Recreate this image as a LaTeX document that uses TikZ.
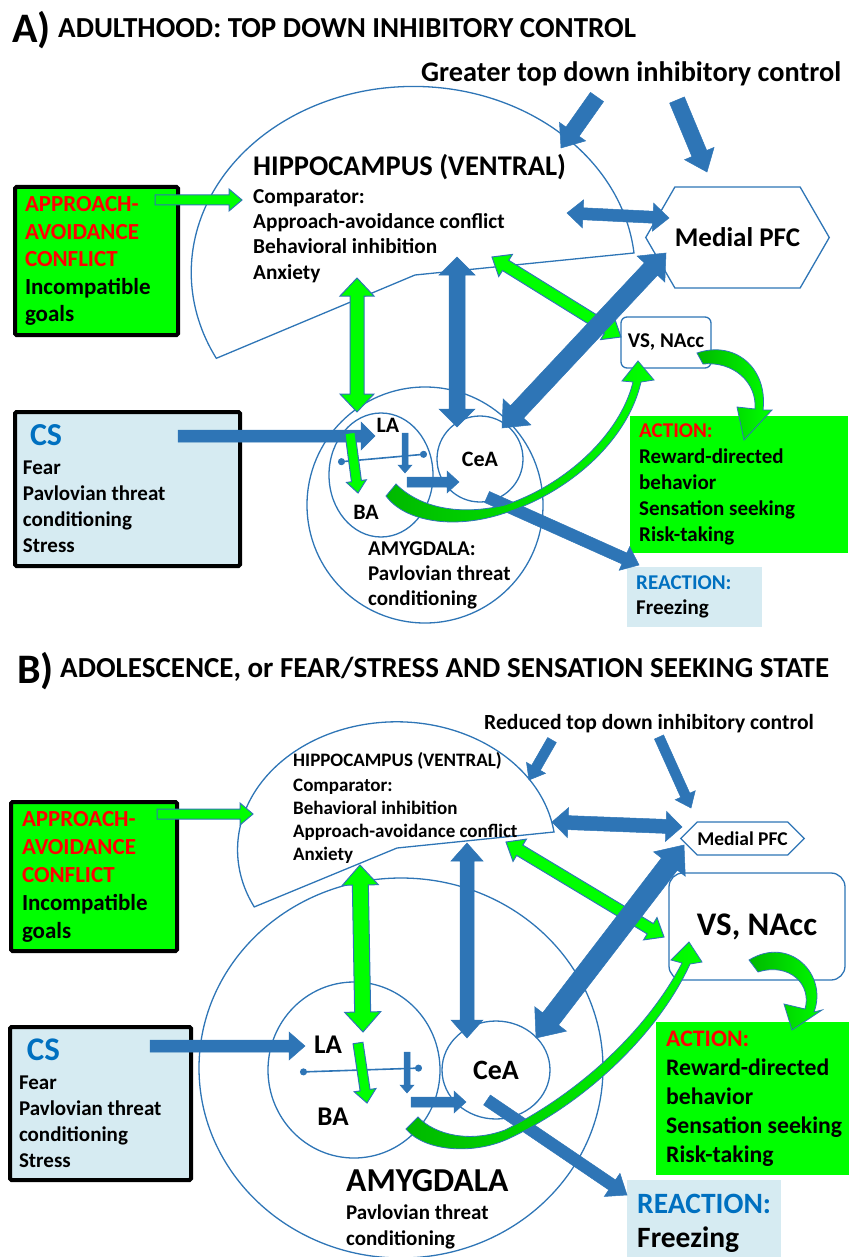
\documentclass[tikz,border=0pt]{standalone}
\usepackage{fontspec}
\setmainfont{Carlito}
\usetikzlibrary{arrows.meta,calc,positioning,shapes.geometric,shapes.symbols}

\definecolor{accentblue}{RGB}{46,117,182}
\definecolor{brightgreen}{RGB}{0,255,0}
\definecolor{deepgreen}{RGB}{0,185,0}
\definecolor{paleblue}{RGB}{214,235,242}
\definecolor{csblue}{RGB}{0,112,192}

\newcommand{\fsz}[2]{\fontsize{#1}{#2}\selectfont\bfseries}

\tikzset{
  shaftw/.store in=\shaftw, headw/.store in=\headw, headl/.store in=\headl,
  shaftw=6pt, headw=14pt, headl=16pt,
  blockto/.style={to path={
      -- ($(\tikztostart)!\shaftw!90:(\tikztotarget)$)
      -- ($(\tikztotarget)!\headl!(\tikztostart)!\shaftw!90:(\tikztotarget)$)
      -- ($(\tikztotarget)!\headl!(\tikztostart)!\headw!90:(\tikztotarget)$)
      -- (\tikztotarget)
      -- ($(\tikztotarget)!\headl!(\tikztostart)!\headw!-90:(\tikztotarget)$)
      -- ($(\tikztotarget)!\headl!(\tikztostart)!\shaftw!-90:(\tikztotarget)$)
      -- ($(\tikztostart)!\shaftw!-90:(\tikztotarget)$) -- cycle}},
  dblockto/.style={to path={
      -- ($(\tikztostart)!\headl!(\tikztotarget)!\headw!90:(\tikztotarget)$)
      -- ($(\tikztostart)!\headl!(\tikztotarget)!\shaftw!90:(\tikztotarget)$)
      -- ($(\tikztotarget)!\headl!(\tikztostart)!\shaftw!90:(\tikztotarget)$)
      -- ($(\tikztotarget)!\headl!(\tikztostart)!\headw!90:(\tikztotarget)$)
      -- (\tikztotarget)
      -- ($(\tikztotarget)!\headl!(\tikztostart)!\headw!-90:(\tikztotarget)$)
      -- ($(\tikztotarget)!\headl!(\tikztostart)!\shaftw!-90:(\tikztotarget)$)
      -- ($(\tikztostart)!\headl!(\tikztotarget)!\shaftw!-90:(\tikztotarget)$)
      -- ($(\tikztostart)!\headl!(\tikztotarget)!\headw!-90:(\tikztotarget)$)
      -- cycle}}
}

\begin{document}
\begin{tikzpicture}[x=1pt, y=-1pt,
    region/.style={draw=accentblue, line width=1.3pt},
    borderbox/.style={draw=black, line width=4pt, rounded corners=1.5pt, anchor=north west, align=flush left, inner ysep=0pt},
    plainbox/.style={anchor=north west, align=flush left, inner ysep=0pt},
    hexagon/.style={signal, signal to=east and west, draw=accentblue, line width=1.3pt, fill=white, inner sep=0pt},
    roundbox/.style={draw=accentblue, line width=1.3pt, rounded corners=6pt, fill=white},
    textline/.style={anchor=base west, align=left, inner sep=0pt},
    bluearrow/.style={blockto, draw=accentblue, fill=accentblue, line width=0.5pt},
    bluedouble/.style={dblockto, draw=accentblue, fill=accentblue, line width=0.5pt},
    greenarrow/.style={blockto, draw=accentblue, fill=brightgreen, line width=1pt},
    greendouble/.style={dblockto, draw=accentblue, fill=brightgreen, line width=1pt},
    curvedarrow/.style={draw=accentblue, line width=0.8pt, left color=deepgreen, right color=brightgreen},
    dumbbell/.style={draw=accentblue, line width=1.6pt, {Circle[length=7pt]}-{Circle[length=7pt]}}
]
\useasboundingbox (0,0) rectangle (848,1257);

\node[textline, font=\fsz{42}{44}] (a-tag) at (12,43) {A)};
\node[textline, font=\fsz{29}{31}] (a-title) at (58,38) {ADULTHOOD: TOP DOWN INHIBITORY CONTROL};
\node[textline, font=\fsz{28.3}{30}] (a-greater) at (421,82) {Greater top down inhibitory control};

\draw[region] (634,253) arc[start angle=-6, end angle=-207.5, x radius=222, y radius=186] -- (415,275) -- cycle;
\node[region, circle, minimum size=236pt, inner sep=0pt] (a-amyg) at (425,505) {};
\node[region, ellipse, minimum width=104pt, minimum height=124pt, inner sep=0pt] (a-lab) at (381,475) {};
\node[region, circle, minimum size=86pt, inner sep=0pt, font=\fsz{22}{24}] (a-cea) at (480,459) {CeA};
\node[hexagon, minimum width=173pt, minimum height=101pt, signal pointer angle=120, font=\fsz{27}{29}] (a-pfc) at (737.5,237.5) {Medial PFC};
\node[roundbox, minimum width=90pt, minimum height=51pt, font=\fsz{21}{23}] (a-vs) at (666,342.5) {VS, NAcc};

\node[borderbox, fill=brightgreen, text width=143pt, inner xsep=10pt, minimum height=148pt, font=\fsz{23}{27.5}] (a-conflict) at (13,185) {\textcolor{red}{APPROACH-}\\\textcolor{red}{AVOIDANCE}\\\textcolor{red}{CONFLICT}\\Incompatible\\goals};
\node[borderbox, fill=paleblue, text width=209pt, inner xsep=8pt, minimum height=154pt, font=\fsz{21}{26}] (a-cs) at (13,410) {\hspace*{7pt}{\fsz{32}{34}\color{csblue}CS}\\[3pt]Fear\\Pavlovian threat\\conditioning\\Stress};
\node[plainbox, fill=brightgreen, text width=200pt, inner xsep=9pt, minimum height=137pt, font=\fsz{21}{26}] (a-action) at (630,416) {\textcolor{red}{ACTION:}\\Reward-directed\\behavior\\Sensation seeking\\Risk-taking};
\node[plainbox, fill=paleblue, text width=117pt, inner xsep=9pt, minimum height=60pt, font=\fsz{21}{25}] (a-reaction) at (627,567) {\textcolor{csblue}{REACTION:}\\Freezing};

\node[textline, font=\fsz{28.5}{30}] (a-hipname) at (253,176) {HIPPOCAMPUS (VENTRAL)};
\node[textline, font=\fsz{21.3}{25.3}] (a-hiptext) at (253,279) {Comparator:\\Approach-avoidance conflict\\Behavioral inhibition\\Anxiety};
\node[font=\fsz{22}{24}] (a-la) at (388,425) {LA};
\node[font=\fsz{22}{24}] (a-ba) at (366,512) {BA};
\node[textline, font=\fsz{21}{25}] (a-amygtext) at (368,605) {AMYGDALA:\\Pavlovian threat\\conditioning};

\coordinate (a-conf-out) at (155,200);  \coordinate (a-hip-in) at (242,200);
\coordinate (a-top1) at (597,97);       \coordinate (a-top1-end) at (561,148);
\coordinate (a-top2) at (677,100);      \coordinate (a-top2-end) at (707,172);
\coordinate (a-hip-pfc) at (567,213);   \coordinate (a-pfc-hip) at (669,218);
\coordinate (a-hip-vs) at (492,257);    \coordinate (a-vs-hip) at (621,337);
\coordinate (a-pfc-cea) at (666,253);   \coordinate (a-cea-pfc) at (502,428);
\coordinate (a-hip-la) at (357,278);    \coordinate (a-la-hip) at (357,412);
\coordinate (a-hip-cea) at (457,257);   \coordinate (a-cea-hip) at (457,427);
\coordinate (a-cs-out) at (178,436);    \coordinate (a-la-in) at (375,436);
\coordinate (a-la-out) at (350,433);    \coordinate (a-ba-in) at (358,493);
\coordinate (a-la-down) at (405,433);   \coordinate (a-la-down-end) at (405,473);
\coordinate (a-to-cea) at (407,482);    \coordinate (a-cea-in) at (459,482);
\coordinate (a-cea-out) at (487,497);   \coordinate (a-react-in) at (639,565);
\coordinate (a-dot1) at (338,462);      \coordinate (a-dot2) at (427,454);

\draw[dumbbell] (a-dot1) -- (a-dot2);
\draw[greenarrow, shaftw=5pt, headw=11pt, headl=13pt] (a-conf-out) to (a-hip-in);
\draw[bluearrow, shaftw=8pt, headw=16pt, headl=20pt] (a-top1) to (a-top1-end);
\draw[bluearrow, shaftw=8pt, headw=16pt, headl=20pt] (a-top2) to (a-top2-end);
\draw[bluedouble, shaftw=6pt, headw=14pt, headl=16pt] (a-hip-pfc) to (a-pfc-hip);
\draw[greendouble, shaftw=6pt, headw=13pt, headl=16pt] (a-hip-vs) to (a-vs-hip);
\draw[bluedouble, shaftw=9pt, headw=19pt, headl=22pt] (a-pfc-cea) to (a-cea-pfc);
\draw[greendouble, shaftw=7pt, headw=17pt, headl=18pt] (a-hip-la) to (a-la-hip);
\draw[bluedouble, shaftw=8pt, headw=18pt, headl=18pt] (a-hip-cea) to (a-cea-hip);
\draw[bluearrow, shaftw=6pt, headw=14pt, headl=14pt] (a-cs-out) to (a-la-in);
\draw[greenarrow, shaftw=5pt, headw=10pt, headl=12pt] (a-la-out) to (a-ba-in);
\draw[bluearrow, shaftw=3pt, headw=7pt, headl=8pt] (a-la-down) to (a-la-down-end);
\draw[bluearrow, shaftw=5pt, headw=11pt, headl=12pt] (a-to-cea) to (a-cea-in);
\draw[bluearrow, shaftw=6pt, headw=13pt, headl=16pt] (a-cea-out) to (a-react-in);
\draw[curvedarrow] (386,496) .. controls (405,522) and (455,530) .. (505,513) .. controls (570,492) and (628,440) .. (641,382) -- (654,380) -- (638,361) -- (622,381) -- (633,382) .. controls (620,435) and (565,485) .. (505,505) .. controls (460,516) and (420,508) .. (396,484) -- cycle;
\draw[curvedarrow] (697,353) .. controls (735,340) and (768,368) .. (763,410) -- (772,410) -- (744,440) -- (737,407) -- (755,409) .. controls (757,382) and (733,361) .. (703,364) -- cycle;

\node[textline, font=\fsz{42}{44}] (b-tag) at (17,683) {B)};
\node[textline, font=\fsz{29}{31}] (b-title) at (60,677) {ADOLESCENCE, or FEAR/STRESS AND SENSATION SEEKING STATE};
\node[textline, font=\fsz{21.6}{24}] (b-reduced) at (484,729) {Reduced top down inhibitory control};

\draw[region] (554,832) arc[start angle=-8, end angle=-206.5, x radius=159, y radius=128] -- (397,848) -- cycle;
\node[region, ellipse, minimum width=404pt, minimum height=380pt, inner sep=0pt] (b-amyg) at (401,1068) {};
\node[region, ellipse, minimum width=172pt, minimum height=176pt, inner sep=0pt] (b-lab) at (354,1070) {};
\node[region, ellipse, minimum width=108pt, minimum height=98pt, inner sep=0pt, font=\fsz{28}{30}] (b-cea) at (496,1070) {CeA};
\node[hexagon, minimum width=123pt, minimum height=33pt, signal pointer angle=90, font=\fsz{19.5}{21}] (b-pfc) at (742.5,838.5) {Medial PFC};
\node[roundbox, rounded corners=14pt, minimum width=176pt, minimum height=107pt, font=\fsz{33}{35}] (b-vs) at (757,926.5) {VS, NAcc};

\node[borderbox, fill=brightgreen, text width=144pt, inner xsep=11pt, minimum height=149pt, font=\fsz{23}{28}] (b-conflict) at (9,800) {\textcolor{red}{APPROACH-}\\\textcolor{red}{AVOIDANCE}\\\textcolor{red}{CONFLICT}\\Incompatible\\goals};
\node[borderbox, fill=paleblue, text width=163pt, inner xsep=9pt, minimum height=153pt, font=\fsz{21}{26}] (b-cs) at (8,1025) {\hspace*{8pt}{\fsz{33}{35}\color{csblue}CS}\\[3pt]Fear\\Pavlovian threat\\conditioning\\Stress};
\node[plainbox, fill=brightgreen, text width=182pt, inner xsep=10pt, minimum height=153pt, font=\fsz{23.7}{29}] (b-action) at (656,1022) {\textcolor{red}{ACTION:}\\Reward-directed\\behavior\\Sensation seeking\\Risk-taking};
\node[plainbox, fill=paleblue, text width=134pt, inner xsep=10pt, minimum height=86pt, font=\fsz{29.5}{34}] (b-reaction) at (627,1180) {\textcolor{csblue}{REACTION:}\\Freezing};

\node[textline, font=\fsz{19}{22}] (b-hipname) at (293,766) {HIPPOCAMPUS (VENTRAL)};
\node[textline, font=\fsz{19}{23}] (b-hiptext) at (293,860) {Comparator:\\Behavioral inhibition\\Approach-avoidance conflict\\Anxiety};
\node[font=\fsz{27}{29}] (b-la) at (328,1045) {LA};
\node[font=\fsz{27}{29}] (b-ba) at (333,1117) {BA};
\node[textline, font=\fsz{33.5}{35}] (b-amygname) at (346,1191) {AMYGDALA};
\node[textline, font=\fsz{21}{26}] (b-amygtext) at (346,1245) {Pavlovian threat\\conditioning};

\coordinate (b-conf-out) at (157,814);  \coordinate (b-hip-in) at (253,814);
\coordinate (b-top1) at (552,740);      \coordinate (b-top1-end) at (529,780);
\coordinate (b-top2) at (659,737);      \coordinate (b-top2-end) at (691,808);
\coordinate (b-hip-pfc) at (552,822);   \coordinate (b-pfc-hip) at (682,827);
\coordinate (b-hip-vs) at (506,842);    \coordinate (b-vs-hip) at (664,937);
\coordinate (b-pfc-cea) at (684,845);   \coordinate (b-cea-pfc) at (536,1038);
\coordinate (b-hip-la) at (360,865);    \coordinate (b-la-hip) at (363,1032);
\coordinate (b-hip-cea) at (467,843);   \coordinate (b-cea-hip) at (467,1038);
\coordinate (b-cs-out) at (150,1046);   \coordinate (b-la-in) at (305,1046);
\coordinate (b-la-out) at (358,1043);   \coordinate (b-ba-in) at (367,1103);
\coordinate (b-la-down) at (407,1052);  \coordinate (b-la-down-end) at (407,1093);
\coordinate (b-to-cea) at (411,1102);   \coordinate (b-cea-in) at (466,1102);
\coordinate (b-cea-out) at (487,1100);  \coordinate (b-react-in) at (627,1195);
\coordinate (b-dot1) at (300,1072);     \coordinate (b-dot2) at (422,1068);

\draw[dumbbell] (b-dot1) -- (b-dot2);
\draw[greenarrow, shaftw=5pt, headw=11pt, headl=13pt] (b-conf-out) to (b-hip-in);
\draw[bluearrow, shaftw=5pt, headw=11pt, headl=14pt] (b-top1) to (b-top1-end);
\draw[bluearrow, shaftw=5pt, headw=11pt, headl=14pt] (b-top2) to (b-top2-end);
\draw[bluedouble, shaftw=7pt, headw=15pt, headl=16pt] (b-hip-pfc) to (b-pfc-hip);
\draw[greendouble, shaftw=6pt, headw=13pt, headl=16pt] (b-hip-vs) to (b-vs-hip);
\draw[bluedouble, shaftw=10pt, headw=20pt, headl=24pt] (b-pfc-cea) to (b-cea-pfc);
\draw[greendouble, shaftw=8pt, headw=18pt, headl=20pt] (b-hip-la) to (b-la-hip);
\draw[bluedouble, shaftw=7pt, headw=16pt, headl=18pt] (b-hip-cea) to (b-cea-hip);
\draw[bluearrow, shaftw=6pt, headw=14pt, headl=16pt] (b-cs-out) to (b-la-in);
\draw[greenarrow, shaftw=5pt, headw=11pt, headl=13pt] (b-la-out) to (b-ba-in);
\draw[bluearrow, shaftw=3pt, headw=7pt, headl=8pt] (b-la-down) to (b-la-down-end);
\draw[bluearrow, shaftw=5pt, headw=11pt, headl=12pt] (b-to-cea) to (b-cea-in);
\draw[bluearrow, shaftw=6pt, headw=14pt, headl=18pt] (b-cea-out) to (b-react-in);
\draw[curvedarrow] (406,1129) .. controls (425,1152) and (475,1155) .. (510,1138) .. controls (590,1100) and (660,1030) .. (690,964) -- (702,962) -- (689,942) -- (671,960) -- (682,963) .. controls (650,1025) and (585,1090) .. (505,1130) .. controls (470,1143) and (435,1135) .. (418,1117) -- cycle;
\draw[curvedarrow] (749,960) .. controls (790,935) and (828,975) .. (814,1012) -- (822,1010) -- (792,1030) -- (784,1004) -- (805,1009) .. controls (812,985) and (790,962) .. (758,972) -- cycle;
\end{tikzpicture}
\end{document}
